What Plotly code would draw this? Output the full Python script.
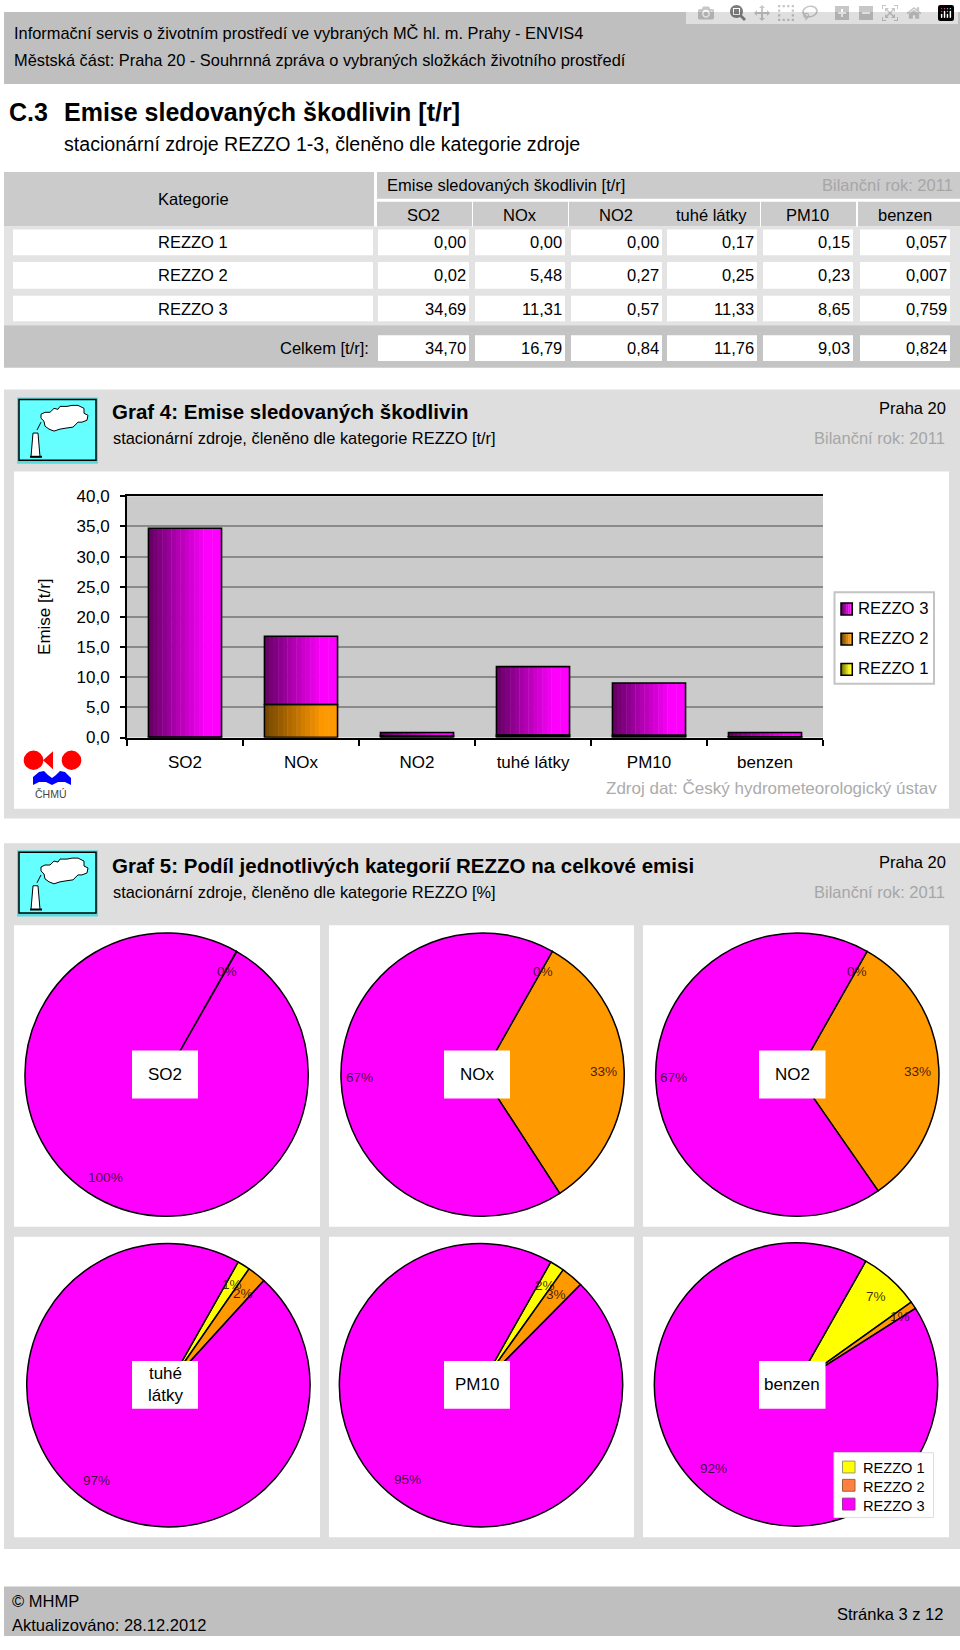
import plotly.graph_objects as go

# ---------- data ----------
categories = ["SO2", "NOx", "NO2", "tuhé látky", "PM10", "benzen"]
rezzo1 = [0.00, 0.00, 0.00, 0.17, 0.15, 0.057]
rezzo2 = [0.02, 5.48, 0.27, 0.25, 0.23, 0.007]
rezzo3 = [34.69, 11.31, 0.57, 11.33, 8.65, 0.759]
totals = [34.70, 16.79, 0.84, 11.76, 9.03, 0.824]
series_names = ["REZZO 1", "REZZO 2", "REZZO 3"]
y_ticks = [0, 5, 10, 15, 20, 25, 30, 35, 40]
pct_so2 = ["0%", "100%"]
pct_nox = ["0%", "33%", "67%"]
pct_no2 = ["0%", "33%", "67%"]
pct_tuhe = ["1%", "2%", "97%"]
pct_pm10 = ["2%", "3%", "95%"]
pct_benzen = ["7%", "1%", "92%"]

W, H = 960, 1650
FONT = "Liberation Sans"
shapes, ann = [], []

def px(x): return x / W
def py(y): return 1 - y / H

def rect(x0, y0, x1, y1, fill, line=None, lw=0, layer="below"):
    shapes.append(dict(type="rect", xref="paper", yref="paper", x0=px(x0), x1=px(x1), y0=py(y0), y1=py(y1),
                       fillcolor=fill, line=dict(color=line or fill, width=lw), layer=layer))

def poly(pts, fill, line=None, lw=0, layer="below", closed=True):
    d = "M" + " L".join(f"{px(a):.5f},{py(b):.5f}" for a, b in pts) + (" Z" if closed else "")
    shapes.append(dict(type="path", xref="paper", yref="paper", path=d, fillcolor=fill,
                       line=dict(color=line or "rgba(0,0,0,0)", width=lw), layer=layer))

def circle(cx, cy, r, fill):
    shapes.append(dict(type="circle", xref="paper", yref="paper", x0=px(cx - r), x1=px(cx + r),
                       y0=py(cy + r), y1=py(cy - r), fillcolor=fill, line=dict(width=0), layer="below"))

def T(x, y, text, size=16.5, anchor="left", color="#000000", bold=False, angle=0):
    ann.append(dict(xref="paper", yref="paper", x=px(x), y=py(y), text=f"<b>{text}</b>" if bold else text,
                    showarrow=False, xanchor=anchor, yanchor="middle", borderpad=0, borderwidth=0, textangle=angle,
                    font=dict(family=FONT, size=size, color=color)))

BAND = "#BFBFBF"
HEAD = "#CBCBCB"
LIGHT = "#E3E3E3"
PANEL = "#DEDEDE"
GRAYTXT = "#A6A6A6"

# ---------- top band ----------
rect(4, 3, 960, 76, BAND)
T(14, 24, "Informační servis o životním prostředí ve vybraných MČ hl. m. Prahy - ENVIS4", 16.4)
T(14, 52, "Městská část: Praha 20 - Souhrnná zpráva o vybraných složkách životního prostředí", 16.4)
T(9, 104, "C.3", 25, bold=True)
T(64, 104, "Emise sledovaných škodlivin [t/r]", 25, bold=True)
T(64, 137, "stacionární zdroje REZZO 1-3, členěno dle kategorie zdroje", 19.6)

# ---------- table ----------
col_x = [(378, 469), (475, 565), (571, 662), (667, 757), (763, 853), (860, 950)]
rect(4, 165, 374, 220, HEAD)
rect(377, 165, 960, 192, HEAD)
for i, (a, b) in enumerate(col_x):
    rect(a - 2 if i else 377, 195, b + 3 if i < 5 else 960, 220, HEAD)
rect(4, 220, 960, 320, LIGHT)
rect(4, 320, 960, 363, "#C4C4C4")
for y0, y1 in [(223, 249), (256, 283), (290, 316)]:
    rect(13, y0, 373, y1, "#FFFFFF")
    for a, b in col_x:
        rect(a, y0, b, y1, "#FFFFFF")
for a, b in col_x:
    rect(a, 330, b, 356, "#FFFFFF")
T(193, 192, "Kategorie", 16.5, "center")
T(387, 178, "Emise sledovaných škodlivin [t/r]", 16.5)
T(953, 178, "Bilanční rok: 2011", 16.5, "right", GRAYTXT)
for (a, b), c in zip(col_x, categories):
    T((a + b) / 2 - 0.5, 208, c, 16.5, "center")
def fmt(v, d): return f"{v:.{d}f}".replace(".", ",")
for row, vals, y in zip(series_names, [rezzo1, rezzo2, rezzo3], [236, 269.5, 303]):
    T(193, y, row, 16.5, "center")
    for i, ((a, b), v) in enumerate(zip(col_x, vals)):
        T(b - 3, y, fmt(v, 3 if i == 5 else 2), 16.5, "right")
T(369, 343, "Celkem [t/r]:", 16.5, "right")
for i, ((a, b), v) in enumerate(zip(col_x, totals)):
    T(b - 3, 343, fmt(v, 3 if i == 5 else 2), 16.5, "right")

# ---------- panels ----------
def icon(dy):
    rect(17, 393 + dy, 98, 460 + dy, "#55DDDD")
    shapes.append(dict(type="rect", xref="paper", yref="paper", x0=px(19), x1=px(96), y0=py(395 + dy), y1=py(456.5 + dy),
                       fillcolor="#66FFFF", line=dict(color="#000000", width=1.5), layer="below"))
    cloud = [(41, 410), (45, 408), (50, 408), (54, 404), (58, 405), (60, 402), (67, 402), (72, 401), (78, 401),
             (84, 404), (84, 409), (88, 411), (87, 416), (82, 418), (78, 418), (73, 423), (66, 424), (60, 425),
             (54, 427), (49, 425), (45, 422), (44, 417), (41, 414)]
    poly([(a, b + dy) for a, b in cloud], "#FFFFFF", "#000000", 1)
    poly([(33, 429 + dy), (38, 429 + dy), (40, 453 + dy), (31, 453 + dy)], "#FFFFFF", "#000000", 1)
    poly([(30, 453 + dy), (42, 453 + dy)], "rgba(0,0,0,0)", "#000000", 2, closed=False)
    poly([(37, 426 + dy), (41, 418 + dy)], "rgba(0,0,0,0)", "#000000", 1, closed=False)

def header(dy, title, sub):
    icon(dy - (1 if dy else 0))
    T(112, 407 + dy, title, 20.5, bold=True)
    T(113, 434 + dy, sub, 16.4)
    T(946, 404 + dy, "Praha 20", 16.5, "right")
    T(945, 434 + dy, "Bilanční rok: 2011", 16.5, "right", GRAYTXT)

rect(4, 385, 960, 819, PANEL)
rect(14, 468, 949, 809, "#FFFFFF")
header(0, "Graf 4: Emise sledovaných škodlivin", "stacionární zdroje, členěno dle kategorie REZZO [t/r]")
T(937, 789, "Zdroj dat: Český hydrometeorologický ústav", 17, "right", "#ABABAB")
T(45, 615, "Emise [t/r]", 17, "center", angle=-90)

# plot background
PL, PR, PT, PB = 127, 823, 493, 737
rect(PL, PT, PR, PB, "#CBCBCB")

# CHMU logo
circle(33.5, 760, 9.8, "#FF0000")
circle(71.5, 760, 9.8, "#FF0000")
poly([(43, 760), (53, 751), (53, 769)], "#FF0000")
poly([(33, 785), (33, 777), (39, 772), (44, 771), (48, 775), (52, 778), (56, 775), (60, 771), (65, 772), (71, 778),
      (71, 785), (65, 782), (58, 782), (52, 785), (46, 782), (39, 782)], "#0000FF")
T(51, 794, "ČHMÚ", 10.5, "center", "#444444")

rect(4, 844, 960, 1558, PANEL)
header(459, "Graf 5: Podíl jednotlivých kategorií REZZO na celkové emisi", "stacionární zdroje, členěno dle kategorie REZZO [%]")
for y0, y1 in [(927, 1232), (1242, 1546)]:
    for x0, x1 in [(14, 320), (329, 634), (643, 949)]:
        rect(x0, y0, x1, y1, "#FFFFFF")

# footer
rect(4, 1596, 960, 1646, BAND)
T(12, 1611, "© MHMP", 16.5)
T(12, 1635, "Aktualizováno: 28.12.2012", 16.5)
T(943, 1624, "Stránka 3 z 12", 16.5, "right")

# ---------- bars ----------
fig = go.Figure()
N = 16
BW = 0.63
pal = {"REZZO 1": ((0x78, 0x78, 0x00), (255, 255, 0)),
       "REZZO 2": ((0x78, 0x48, 0x00), (255, 153, 0)),
       "REZZO 3": ((0x68, 0x00, 0x68), (255, 0, 255))}

def shade(name, t):
    d, f = pal[name]
    k = min(1.0, t / 0.82)
    return "rgb(" + ",".join(str(round(a + (b - a) * k)) for a, b in zip(d, f)) + ")"

base = [0.0] * len(categories)
stack = []
for name, vals in zip(series_names, [rezzo1, rezzo2, rezzo3]):
    stack.append((name, vals, list(base)))
    base = [b + v for b, v in zip(base, vals)]

dw = BW / N
for name, vals, bs in stack:
    for k in range(N):
        fig.add_trace(go.Bar(x=categories, y=vals, base=bs, width=dw * (1.08 if k < N - 1 else 1),
                             offset=-BW / 2 + k * dw, marker=dict(color=shade(name, k / (N - 1)), line=dict(width=0)),
                             showlegend=False, hoverinfo="skip"))
for name, vals, bs in stack:
    fig.add_trace(go.Bar(x=categories, y=vals, base=bs, width=BW, offset=-BW / 2, name=name,
                         marker=dict(color="rgba(0,0,0,0)", line=dict(color="#000000", width=1.6)), showlegend=False))

# bar legend
rect(834.5, 590, 934, 682.5, "#FFFFFF", "#C4C4C4", 2)
for name, y0, tc in zip(["REZZO 3", "REZZO 2", "REZZO 1"], [601, 631.5, 662], [606.7, 636.7, 667.3]):
    for k in range(6):
        rect(841 + k * 11.3 / 6, y0, 841 + (k + 1.1) * 11.3 / 6, y0 + 12, shade(name, k / 5))
    shapes.append(dict(type="rect", xref="paper", yref="paper", x0=px(841), x1=px(852.3), y0=py(y0), y1=py(y0 + 12),
                       fillcolor="rgba(0,0,0,0)", line=dict(color="#000000", width=1.5), layer="below"))
    T(858, tc, name, 16.7)

# ---------- pies ----------
R = 143.3
pie_colors = ["#FFFF00", "#FF9900", "#FF00FF"]
pie_centers = [(166.6, 1078), (482.6, 1078), (797.3, 1078), (168.4, 1392.3), (481, 1392.3), (796, 1391.5)]
for i, (c, (cx, cy)) in enumerate(zip(categories, pie_centers)):
    fig.add_trace(go.Pie(labels=series_names, values=[rezzo1[i], rezzo2[i], rezzo3[i]], sort=False, direction="clockwise",
                         rotation=29.5, textinfo="none", showlegend=False, name=c,
                         marker=dict(colors=pie_colors, line=dict(color="#000000", width=1.5)),
                         domain=dict(x=[px(cx - R), px(cx + R)], y=[py(cy + R), py(cy - R)])))

# centre boxes
box_x = [(132, 198), (444, 510), (759, 825.5)]
for i, c in enumerate(categories):
    x0, x1 = box_x[i % 3]
    y0, y1 = (1053.7, 1102.3) if i < 3 else (1367.7, 1416)
    rect(x0, y0, x1, y1, "#FFFFFF", layer="above")
    lab = c.replace(" ", "<br>")
    T((x0 + x1) / 2, (y0 + y1) / 2, lab, 17, "center")

# percentage labels
PCT = "rgba(20,0,20,0.82)"
pct_pos = [
    (pct_so2, [(226.6, 974), (105, 1182)]),
    (pct_nox, [(543, 974), (603, 1075), (359, 1080.7)]),
    (pct_no2, [(857, 974), (917, 1075), (673.6, 1080.7)]),
    (pct_tuhe, [(231.5, 1290), (243, 1299), (96.8, 1489)]),
    (pct_pm10, [(545, 1291), (556, 1300.7), (407, 1487.7)]),
    (pct_benzen, [(876, 1303), (899.6, 1322.7), (713.4, 1476.7)]),
]
for labs, pos in pct_pos:
    for l, (x, y) in zip(labs, pos):
        T(x, y, l, 13.6, "center", PCT)

# pie legend
rect(834, 1460.5, 933.5, 1526, "#FFFFFF", "#DDDDDD", 1, layer="above")
for name, col, edge, y0, tc in zip(series_names, ["#FFFF00", "#FF8040", "#FF00FF"], ["#999966", "#996633", "#993399"],
                                   [1469, 1487.5, 1506.5], [1475.7, 1495, 1514]):
    rect(842.5, y0, 855, y0 + 12, col, edge, 1, layer="above")
    T(863, tc, name, 14.6)

fig.update_layout(
    width=W, height=H, autosize=False, margin=dict(l=0, r=0, t=0, b=0), paper_bgcolor="#FFFFFF", plot_bgcolor="rgba(0,0,0,0)",
    barmode="overlay", separators=",.", showlegend=False, shapes=shapes, annotations=ann,
    font=dict(family=FONT, color="#000000"),
    xaxis=dict(domain=[px(PL), px(PR)], anchor="y", type="category", categoryorder="array", categoryarray=categories,
               range=[-0.5, 5.5], tickson="boundaries", ticks="outside", ticklen=6, tickwidth=1.5, tickcolor="#000000",
               showline=True, mirror=True, linecolor="#000000", linewidth=2, showgrid=False, zeroline=False,
               tickfont=dict(family=FONT, size=17), ticklabelstandoff=8),
    yaxis=dict(domain=[py(PB), py(PT)], anchor="x", range=[0, 40], tickvals=y_ticks, tickformat=".1f",
               ticks="outside", ticklen=5, tickwidth=1.5, tickcolor="#000000", showline=True, linecolor="#000000", linewidth=2,
               gridcolor="#8A8A8A", gridwidth=1.8, zeroline=False, tickfont=dict(family=FONT, size=17), ticklabelstandoff=7),
)

fig.write_html("out.html", post_script="document.body.style.margin='0';document.documentElement.style.overflow='hidden';")
